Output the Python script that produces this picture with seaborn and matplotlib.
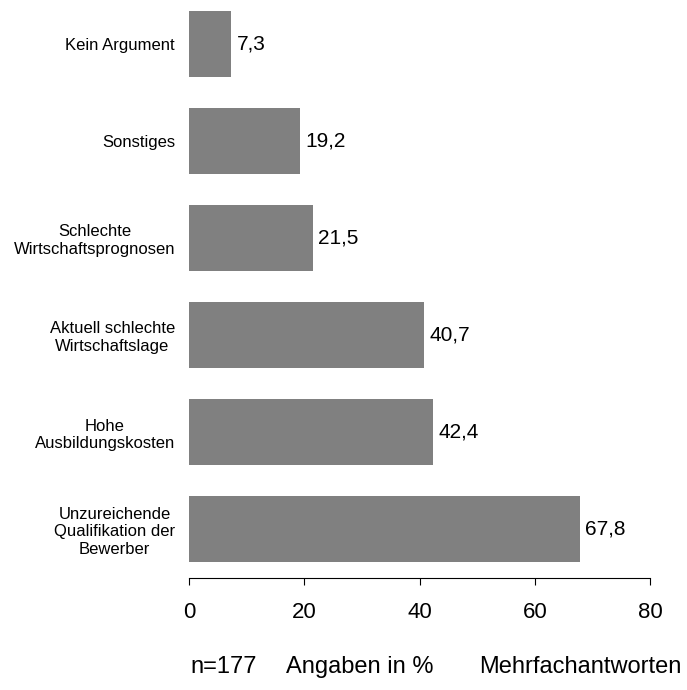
import matplotlib
matplotlib.use('Agg')
import matplotlib.pyplot as plt
import seaborn as sns
import pandas as pd

# chart data
categories = [
    'Kein Argument',
    'Sonstiges',
    'Schlechte\nWirtschaftsprognosen',
    'Aktuell schlechte\nWirtschaftslage',
    'Hohe\nAusbildungskosten',
    'Unzureichende\nQualifikation der\nBewerber',
]
values = [7.3, 19.2, 21.5, 40.7, 42.4, 67.8]
x_ticks = [0, 20, 40, 60, 80]
footnotes = ['n=177', 'Angaben in %', 'Mehrfachantworten']

sns.set_theme(style='white')
plt.rcParams['font.family'] = ['Liberation Sans', 'DejaVu Sans']

W, H = 687, 690
fig = plt.figure(figsize=(W / 100, H / 100), dpi=100)
ax = fig.add_axes([189 / W, 1 - 578 / H, 461 / W, (578 - 11) / H])

df = pd.DataFrame({'category': categories, 'value': values})
sns.barplot(data=df, x='value', y='category', orient='h', color='#808080',
            saturation=1, width=0.68, linewidth=0, ax=ax)

# value labels with German decimal comma
ax.bar_label(ax.containers[0],
             labels=[f'{v:.1f}'.replace('.', ',') for v in values],
             padding=4, fontsize=15, color='black')

ax.set_xlim(0, 80)
ax.set_ylim(5.505, -0.34)
ax.set_xticks(x_ticks)
ax.set_xlabel('')
ax.set_ylabel('')

for s in ['top', 'right', 'left']:
    ax.spines[s].set_visible(False)
ax.spines['bottom'].set_color('black')
ax.spines['bottom'].set_linewidth(0.8)

ax.tick_params(axis='x', direction='out', length=5, width=0.8, color='black',
               bottom=True, labelsize=16, pad=12, labelcolor='black')
ax.tick_params(axis='y', length=0, pad=10, labelsize=12, labelcolor='black')
for lbl in ax.get_yticklabels():
    lbl.set_multialignment('center')

# footnote line
for x_px, txt in zip([190, 286, 479], footnotes):
    fig.text(x_px / W, 1 - 667 / H, txt, ha='left', va='center', fontsize=17, color='black')

fig.savefig('out.png', dpi=100)
